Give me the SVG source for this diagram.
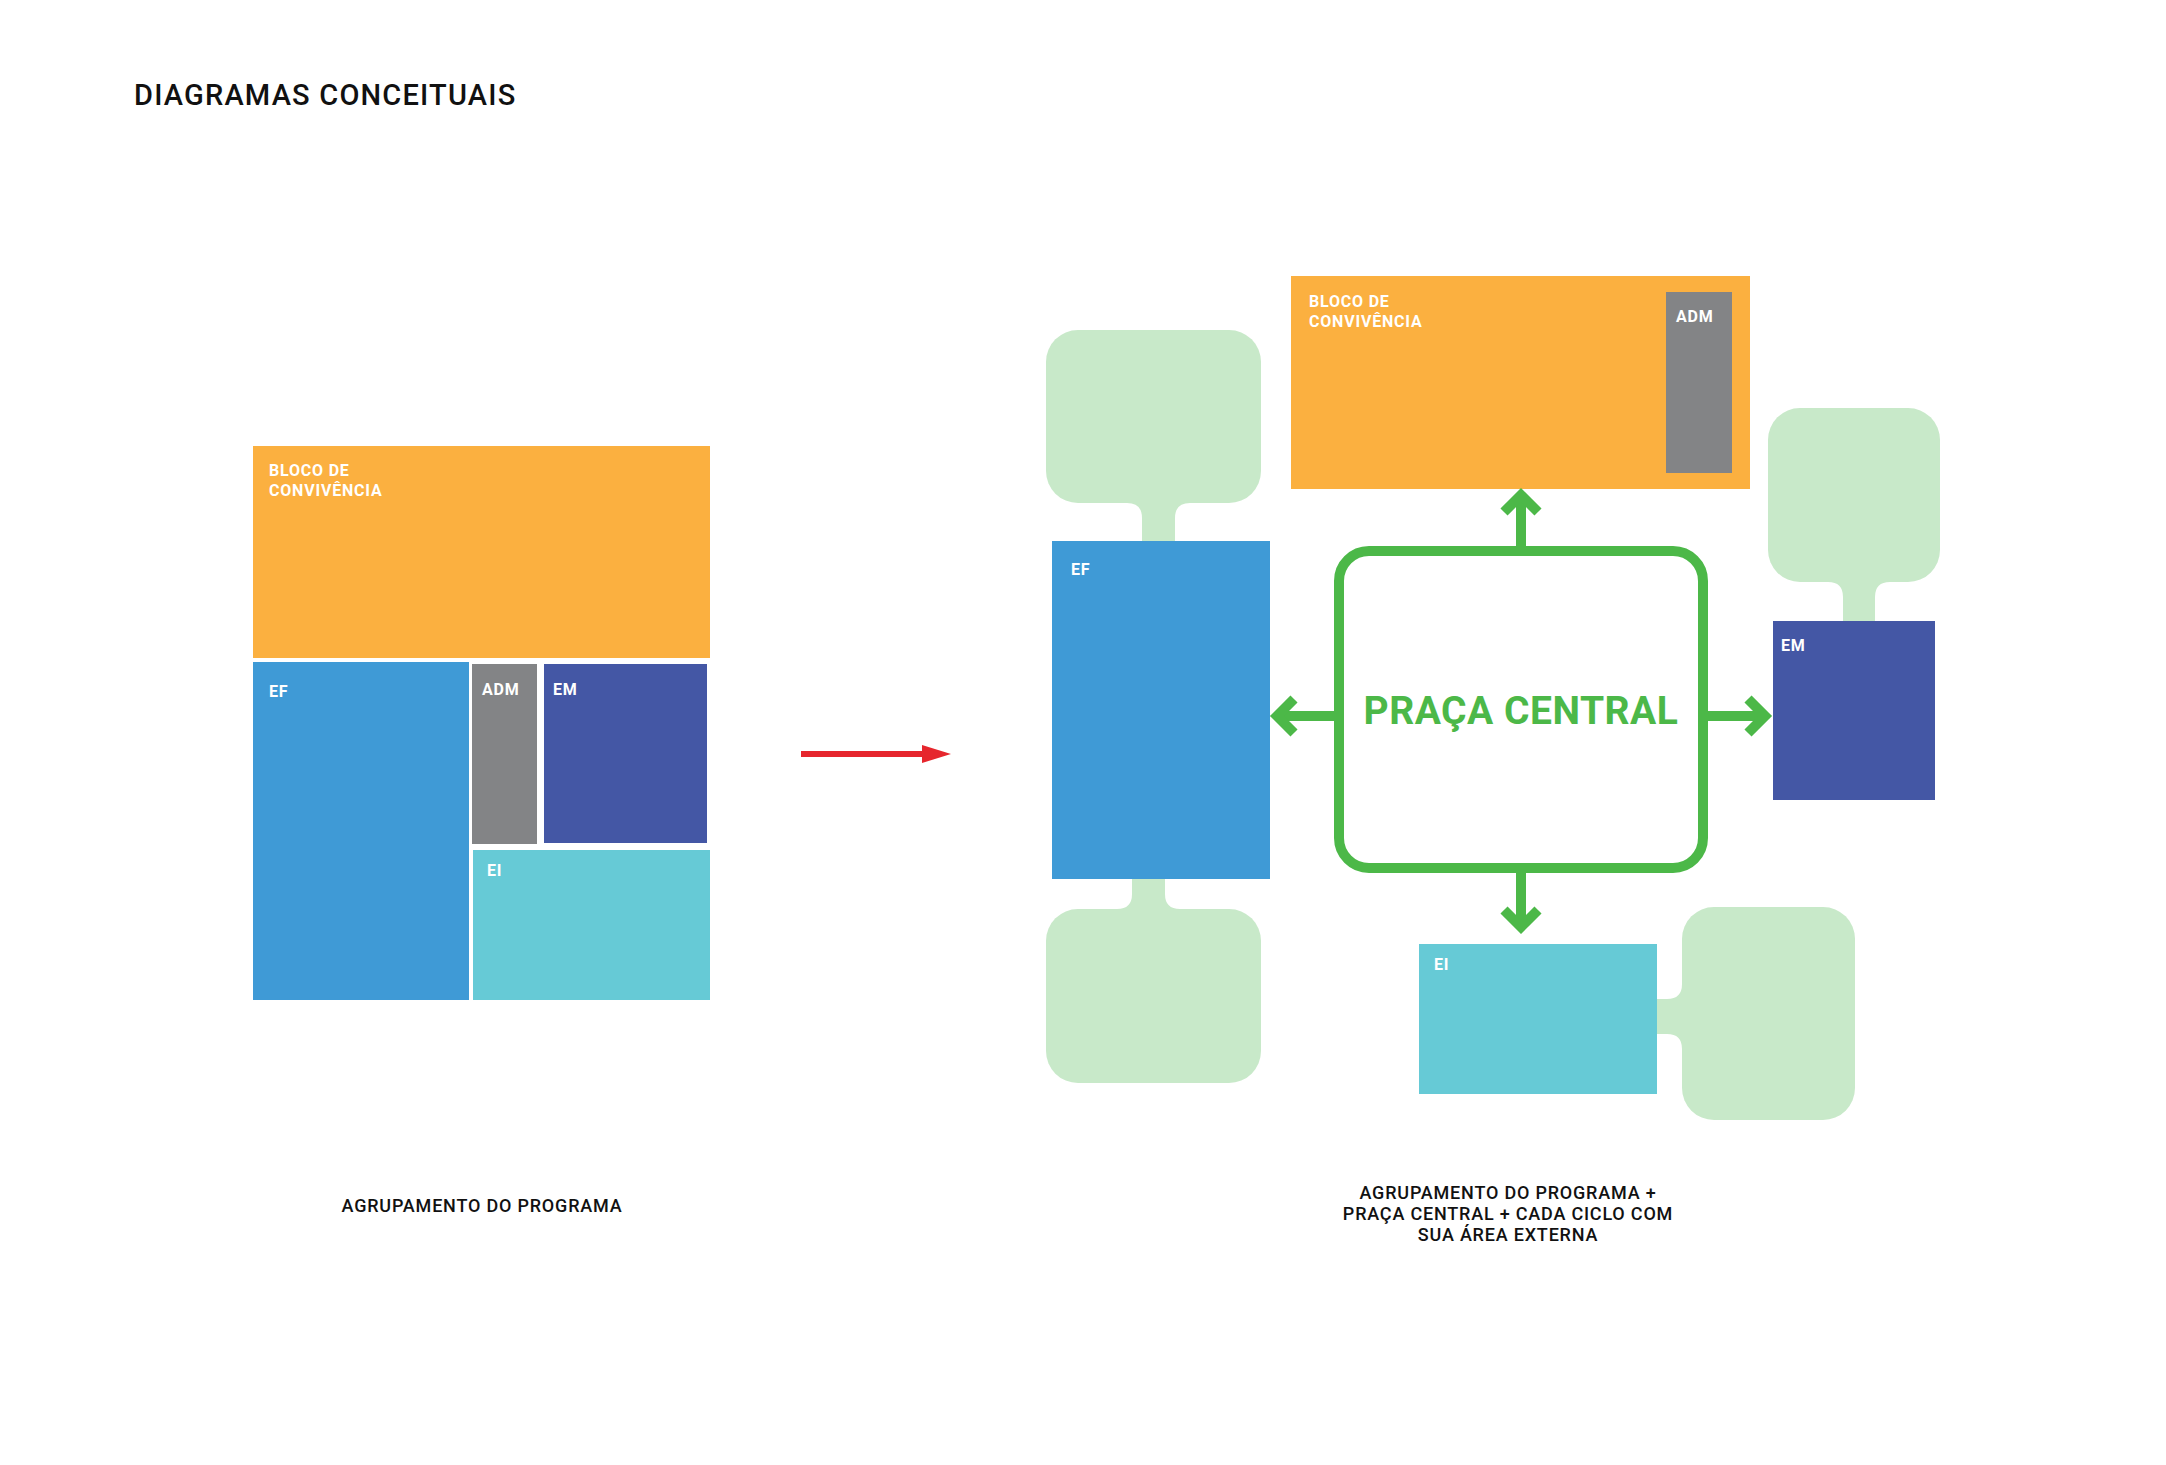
<svg xmlns="http://www.w3.org/2000/svg" width="2166" height="1465" viewBox="0 0 2166 1465">
<style>
.lb{font-family:"Roboto","Liberation Sans",sans-serif;font-weight:bold;font-size:16px;fill:#fff;letter-spacing:0.8px}
.cap{font-family:"Roboto","Liberation Sans",sans-serif;font-weight:500;font-size:18px;fill:#111;text-anchor:middle;letter-spacing:0.8px}
.gb{fill:#c8e9c9}
.ar{fill:none;stroke:#4cb848;stroke-width:10}
</style>
<rect width="2166" height="1465" fill="#fff"/>
<text x="134" y="105" style="font-family:Roboto,'Liberation Sans',sans-serif;font-weight:500;font-size:29px;letter-spacing:1.2px;fill:#111">DIAGRAMAS CONCEITUAIS</text>
<g id="left">
<g id="l-bloco"><rect x="253" y="446" width="457" height="212" fill="#fbb040"/><text class="lb" x="269" y="476">BLOCO DE</text><text class="lb" x="269" y="496">CONVIVÊNCIA</text></g>
<g id="l-ef"><rect x="253" y="662" width="216" height="338" fill="#3f9ad6"/><text class="lb" x="269" y="697">EF</text></g>
<g id="l-adm"><rect x="472" y="664" width="65" height="180" fill="#838486"/><text class="lb" x="482" y="695">ADM</text></g>
<g id="l-em"><rect x="544" y="664" width="163" height="179" fill="#4457a5"/><text class="lb" x="553" y="695">EM</text></g>
<g id="l-ei"><rect x="473" y="850" width="237" height="150" fill="#66cad6"/><text class="lb" x="487" y="876">EI</text></g>
<text class="cap" x="482" y="1212">AGRUPAMENTO DO PROGRAMA</text>
</g>
<g id="red-arrow"><line x1="801" y1="754" x2="925" y2="754" stroke="#e6262d" stroke-width="6"/><polygon points="922,745 951,754 922,763" fill="#e6262d"/></g>
<g id="blobs">
<rect class="gb" x="1046" y="330" width="215" height="173" rx="32"/>
<path class="gb" d="M1127 503 Q1142 503 1142 518 L1142 543 L1175 543 L1175 518 Q1175 503 1190 503 Z"/>
<rect class="gb" x="1046" y="909" width="215" height="174" rx="32"/>
<path class="gb" d="M1117 909 Q1132 909 1132 894 L1132 877 L1165 877 L1165 894 Q1165 909 1180 909 Z"/>
<rect class="gb" x="1768" y="408" width="172" height="174" rx="32"/>
<path class="gb" d="M1828 582 Q1843 582 1843 597 L1843 623 L1875 623 L1875 597 Q1875 582 1890 582 Z"/>
<rect class="gb" x="1682" y="907" width="173" height="213" rx="32"/>
<path class="gb" d="M1682 984 Q1682 999 1667 999 L1655 999 L1655 1034 L1667 1034 Q1682 1034 1682 1049 Z"/>
</g>
<g id="r-bloco"><rect x="1291" y="276" width="459" height="213" fill="#fbb040"/><text class="lb" x="1309" y="307">BLOCO DE</text><text class="lb" x="1309" y="327">CONVIVÊNCIA</text>
<rect x="1666" y="292" width="66" height="181" fill="#838486"/><text class="lb" x="1676" y="322">ADM</text></g>
<g id="r-ef"><rect x="1052" y="541" width="218" height="338" fill="#3f9ad6"/><text class="lb" x="1071" y="575">EF</text></g>
<g id="r-em"><rect x="1773" y="621" width="162" height="179" fill="#4457a5"/><text class="lb" x="1781" y="651">EM</text></g>
<g id="r-ei"><rect x="1419" y="944" width="238" height="150" fill="#66cad6"/><text class="lb" x="1434" y="970">EI</text></g>
<g id="praca"><rect x="1339" y="551" width="364" height="317" rx="30" fill="#fff" stroke="#4cb848" stroke-width="10"/>
<text x="1521" y="724" style="font-family:Roboto,'Liberation Sans',sans-serif;font-weight:bold;font-size:39px;letter-spacing:0.5px;fill:#4cb848;text-anchor:middle">PRAÇA CENTRAL</text></g>
<g id="connectors">
<line class="ar" x1="1521" y1="551" x2="1521" y2="495"/><polyline class="ar" points="1504,512 1521,495 1538,512"/>
<line class="ar" x1="1339" y1="716" x2="1277" y2="716"/><polyline class="ar" points="1294,699 1277,716 1294,733"/>
<line class="ar" x1="1703" y1="716" x2="1765" y2="716"/><polyline class="ar" points="1748,699 1765,716 1748,733"/>
<line class="ar" x1="1521" y1="868" x2="1521" y2="927"/><polyline class="ar" points="1504,910 1521,927 1538,910"/>
</g>
<g id="r-caption"><text class="cap" x="1508" y="1199">AGRUPAMENTO DO PROGRAMA +</text><text class="cap" x="1508" y="1220">PRAÇA CENTRAL + CADA CICLO COM</text><text class="cap" x="1508" y="1241">SUA ÁREA EXTERNA</text></g>
</svg>
